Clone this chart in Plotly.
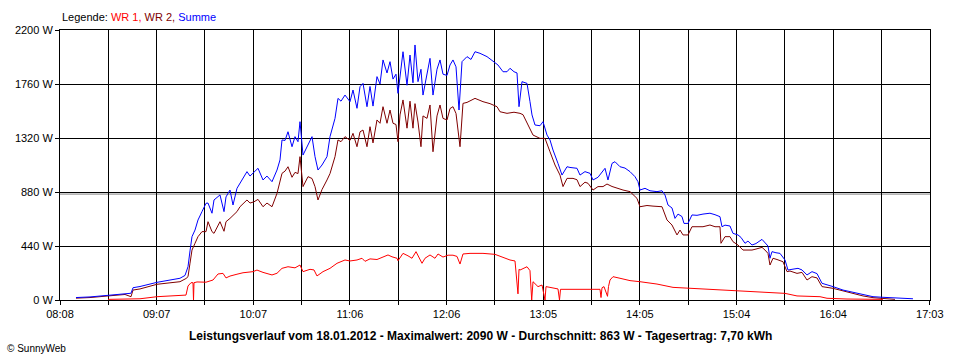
import pandas as pd
import plotly.graph_objects as go

DATE = "2012-01-18"

# ---- data (time, W) ----
SUMME_T = ["08:18:20","08:26:57","08:38:01","08:48:28","08:52:10","08:53:24","08:57:42","09:08:09","09:16:08","09:22:17",
           "09:25:22","09:27:13","09:28:27","09:29:40","09:31:31","09:33:22","09:35:49","09:38:17","09:39:31","09:41:58",
           "09:43:12","09:46:53","09:49:21","09:50:35","09:53:02","09:54:53","09:57:20","09:59:11","10:01:39","10:03:29",
           "10:05:20","10:07:48","10:10:16","10:13:20","10:15:47","10:18:52","10:21:57","10:23:47","10:25:01","10:26:52",
           "10:28:42","10:31:10","10:33:01","10:34:51","10:36:05","10:37:56","10:39:47","10:41:01","10:43:28","10:45:19",
           "10:47:09","10:49:37","10:52:41","10:54:32","10:57:37","10:59:27","11:01:18","11:03:46","11:06:50","11:08:41",
           "11:11:08","11:12:59","11:14:50","11:17:17","11:19:08","11:20:59","11:23:26","11:25:17","11:27:08","11:29:35",
           "11:31:26","11:33:17","11:35:07","11:36:21","11:37:35","11:39:26","11:41:53","11:43:44","11:45:34","11:46:48",
           "11:48:39","11:50:29","11:51:43","11:54:11","11:56:02","11:57:52","12:00:20","12:02:11","12:04:01","12:06:29",
           "12:08:20","12:10:10","12:12:01","12:13:52","12:15:43","12:18:47","12:21:14","12:23:42","12:26:46","12:31:05",
           "12:34:46","12:37:50","12:40:55","12:43:23","12:45:13","12:47:41","12:49:32","12:50:46","12:52:36","12:55:41",
           "12:57:31","12:58:45","13:00:36","13:03:40","13:05:31","13:07:59","13:09:49","13:11:40","13:14:44","13:17:12",
           "13:20:17","13:22:07","13:26:26","13:28:16","13:31:20","13:34:25","13:36:16","13:39:20","13:43:39","13:45:29",
           "13:47:57","13:49:47","13:52:52","13:55:56","13:59:01","14:02:05","14:03:56","14:05:10","14:08:14","14:11:19",
           "14:15:37","14:18:42","14:20:32","14:22:23","14:24:50","14:26:41","14:28:32","14:30:59","14:32:13","14:34:41",
           "14:37:08","14:40:13","14:43:54","14:48:12","14:51:17","14:54:21","14:55:35","14:57:26","15:00:30","15:02:21",
           "15:05:25","15:07:16","15:09:44","15:11:34","15:14:02","15:16:29","15:20:11","15:22:02","15:23:52","15:25:06",
           "15:26:20","15:28:47","15:31:15","15:34:20","15:36:11","15:38:38","15:42:20","15:44:47","15:47:52","15:50:56",
           "15:54:01","15:57:05","16:00:10","16:03:51","16:10:00","16:16:09","16:22:18","16:28:27","16:34:36","16:46:17",
           "16:53:02"]
SUMME_W = [20,25,38,50,55,100,110,144,160,177,
           200,271,400,516,570,652,720,788,790,707,
           815,856,720,840,896,774,910,950,1000,1046,
           1010,1040,1073,978,1010,964,1059,1141,1304,1300,
           1371,1249,1331,1290,1453,1181,1230,1263,1331,1168,
           1059,1100,1168,1331,1480,1643,1620,1670,1616,1711,
           1562,1738,1765,1575,1740,1580,1820,1760,1956,1850,
           1942,1800,1840,1684,1833,2023,1750,1996,1770,2078,
           1779,1880,1670,1850,1969,1670,1880,1956,1840,1830,
           1915,1956,1900,1548,1942,1983,1960,2023,2010,1983,
           1942,1915,1860,1860,1888,1860,1850,1575,1779,1765,
           1616,1508,1426,1420,1453,1344,1304,1222,1113,1018,
           1086,1080,1073,1018,1046,1032,978,1000,1073,978,
           1113,1127,1086,1075,1046,1005,964,896,910,890,
           883,890,856,774,750,665,700,680,624,624,
           693,690,700,707,695,679,597,610,603,543,
           530,510,462,480,448,460,494,470,440,340,
           394,385,380,326,244,250,258,245,204,231,
           215,136,125,109,81,62,49,27,22,14,
           10]

WR2_T = ["08:18:20","08:26:57","08:38:01","08:48:28","08:52:10","08:53:24","08:57:42","09:08:09","09:16:08","09:22:17",
         "09:25:59","09:27:13","09:28:27","09:29:40","09:31:31","09:33:22","09:35:49","09:38:17","09:39:31","09:41:58",
         "09:43:12","09:46:53","09:49:21","09:50:35","09:53:02","09:54:53","09:57:20","09:59:11","10:01:39","10:03:29",
         "10:05:20","10:07:48","10:10:16","10:13:20","10:15:47","10:18:52","10:21:57","10:23:47","10:25:01","10:26:52",
         "10:28:42","10:31:10","10:33:01","10:34:51","10:36:05","10:37:56","10:39:47","10:41:01","10:43:28","10:45:19",
         "10:47:09","10:49:37","10:52:41","10:54:32","10:57:37","10:59:27","11:01:18","11:03:46","11:06:50","11:08:41",
         "11:11:08","11:12:59","11:14:50","11:17:17","11:19:08","11:20:59","11:23:26","11:25:17","11:27:08","11:29:35",
         "11:31:26","11:33:17","11:35:07","11:36:21","11:37:35","11:39:26","11:41:53","11:43:44","11:45:34","11:46:48",
         "11:48:39","11:50:29","11:51:43","11:54:11","11:56:02","11:57:52","12:00:20","12:02:11","12:04:01","12:06:29",
         "12:08:20","12:10:10","12:12:01","12:14:29","12:16:19","12:18:47","12:23:42","12:28:37","12:32:55","12:37:14",
         "12:39:04","12:43:23","12:47:41","12:51:22","12:53:13","12:56:17","12:59:22","13:03:40","13:06:45","13:09:49",
         "13:12:54","13:15:58","13:17:49","13:20:17","13:23:58","13:26:26","13:28:16","13:31:20","13:33:11","13:36:16",
         "13:39:20","13:42:25","13:44:52","13:47:57","13:51:01","13:54:43","13:59:01","14:03:19","14:05:10","14:09:28",
         "14:13:10","14:18:42","14:21:46","14:24:50","14:27:55","14:29:46","14:31:37","14:34:41","14:37:08","14:40:13",
         "14:43:54","14:48:12","14:51:17","14:54:21","14:54:58","14:57:26","15:00:30","15:02:21","15:05:25","15:08:30",
         "15:11:34","15:14:02","15:16:29","15:20:11","15:22:02","15:23:52","15:25:06","15:26:57","15:29:25","15:33:06",
         "15:35:34","15:37:24","15:41:43","15:44:47","15:47:52","15:50:56","15:54:01","15:57:05","16:03:51","16:10:00",
         "16:16:09","16:22:18","16:28:27","16:34:36","16:41:58"]
WR2_W = [15,20,33,45,27,81,90,128,140,149,
         175,190,300,407,462,516,557,557,638,557,
         543,638,560,638,665,690,720,760,790,815,
         790,800,820,760,790,760,869,960,1032,1050,
         1086,1000,1040,1030,1168,924,980,1005,990,924,
         815,900,978,1030,1168,1304,1290,1331,1300,1358,
         1249,1370,1385,1249,1412,1280,1467,1440,1575,1440,
         1548,1440,1430,1290,1508,1630,1400,1620,1400,1600,
         1450,1249,1500,1480,1589,1208,1500,1589,1480,1467,
         1560,1575,1520,1249,1602,1610,1643,1616,1600,1575,
         1534,1521,1530,1521,1510,1426,1344,1317,1317,1208,
         1100,1018,924,991,991,980,924,960,951,896,
         924,924,945,925,910,896,883,828,760,770,
         765,760,652,611,530,570,530,530,597,597,
         597,611,597,597,462,516,516,475,448,407,
         407,407,415,429,407,380,285,340,330,312,
         231,236,217,225,163,190,180,109,95,73,
         55,33,19,11,5]

WR1_T = ["08:38:01","08:57:42","09:08:09","09:22:17","09:25:59","09:27:13","09:29:04","09:30:17","09:30:36","09:30:54",
         "09:32:45","09:38:17","09:42:35","09:45:40","09:48:44","09:50:35","09:53:02","09:57:20","10:01:02","10:07:11",
         "10:09:38","10:13:20","10:18:52","10:21:57","10:25:01","10:28:42","10:33:01","10:36:05","10:37:56","10:42:14",
         "10:44:41","10:46:32","10:50:14","10:54:32","10:58:50","11:03:46","11:06:50","11:11:08","11:14:13","11:16:03",
         "11:19:08","11:23:26","11:27:08","11:30:12","11:32:40","11:35:44","11:36:21","11:39:26","11:42:30","11:44:58",
         "11:47:25","11:49:16","11:51:07","11:52:57","11:56:02","11:59:06","12:00:57","12:04:01","12:07:06","12:10:10",
         "12:12:38","12:14:29","12:16:19","12:20:38","12:28:37","12:36:00","12:40:55","12:45:13","12:48:18","12:50:08",
         "12:50:46","12:51:22","12:55:41","12:57:31","12:58:34","12:59:22","13:02:26","13:04:54","13:06:45","13:07:22",
         "13:09:49","13:14:44","13:15:40","13:16:17","13:40:34","13:41:11","13:41:48","13:43:02","13:45:11","13:45:48",
         "13:46:43","13:48:34","13:52:52","13:59:01","14:05:10","14:15:37","14:25:28","14:35:55","14:54:21","15:10:58",
         "15:23:16","15:34:20","15:41:43","15:55:51","16:00:10","16:12:28","16:34:36"]
WR1_W = [5,10,27,35,40,114,141,141,0,141,
         147,145,163,212,217,180,195,210,222,231,
         244,225,204,218,258,271,262,285,231,250,
         245,196,231,258,299,326,318,326,340,315,
         335,330,353,367,352,340,320,380,360,340,
         394,340,299,340,367,340,375,350,365,365,
         355,293,375,380,380,372,348,326,318,50,
         250,244,271,239,0,149,109,122,0,109,
         103,90,0,87,87,20,100,109,30,110,
         163,190,177,158,149,130,103,95,81,68,
         62,54,33,27,14,8,5]

AVERAGE_W = 863
Y_TICKS = [0, 440, 880, 1320, 1760, 2200]
Y_TICK_LABELS = ["0 W", "440 W", "880 W", "1320 W", "1760 W", "2200 W"]
X_TICK_LABELS = ["08:08", "09:07", "10:07", "11:06", "12:06", "13:05", "14:05", "15:04", "16:04", "17:03"]
X_START = "08:08:30"
X_END = "17:03:30"
TITLE = "Leistungsverlauf vom 18.01.2012 - Maximalwert: 2090 W - Durchschnitt: 863 W - Tagesertrag: 7,70 kWh"


def ts(lst):
    return pd.to_datetime([f"{DATE} {t}" for t in lst])


start = pd.Timestamp(f"{DATE} {X_START}")
end = pd.Timestamp(f"{DATE} {X_END}")
step = (end - start) / 18
tickvals = [start + i * step for i in range(19)]
ticktext = [X_TICK_LABELS[i // 2] if i % 2 == 0 else "" for i in range(19)]

FONT = "Liberation Sans, Arial, sans-serif"

fig = go.Figure()
fig.add_trace(go.Scatter(x=ts(WR1_T), y=WR1_W, mode="lines", name="WR 1",
                         line=dict(color="#FF0000", width=1)))
fig.add_trace(go.Scatter(x=ts(WR2_T), y=WR2_W, mode="lines", name="WR 2",
                         line=dict(color="#800000", width=1)))
fig.add_trace(go.Scatter(x=ts(SUMME_T), y=SUMME_W, mode="lines", name="Summe",
                         line=dict(color="#0000FF", width=1)))

fig.add_shape(type="line", xref="paper", x0=0, x1=1, yref="y", y0=AVERAGE_W, y1=AVERAGE_W,
              line=dict(color="#808080", width=1), layer="below")

fig.update_layout(
    width=960, height=360,
    margin=dict(l=60, r=30, t=30, b=60),
    paper_bgcolor="white", plot_bgcolor="white",
    showlegend=False,
    font=dict(family=FONT, size=11, color="black"),
    xaxis=dict(type="date", range=[start, end], tickvals=tickvals, ticktext=ticktext,
               showgrid=True, gridcolor="black", gridwidth=1,
               showline=True, linecolor="black", linewidth=1, mirror=True,
               ticks="outside", ticklen=4, tickcolor="black", zeroline=False,
               tickfont=dict(family=FONT, size=11, color="black")),
    yaxis=dict(range=[0, 2200], tickvals=Y_TICKS, ticktext=Y_TICK_LABELS,
               showgrid=True, gridcolor="black", gridwidth=1,
               showline=True, linecolor="black", linewidth=1, mirror=True,
               ticks="outside", ticklen=4, tickcolor="black", zeroline=False,
               tickfont=dict(family=FONT, size=11, color="black")),
)

fig.add_annotation(xref="paper", yref="paper", x=0, y=(300 - 17) / 270, xanchor="left", yanchor="middle",
                   showarrow=False, font=dict(family=FONT, size=11, color="black"),
                   text="Legende: <span style='color:#FF0000'>WR 1,</span> "
                        "<span style='color:#800000'>WR 2,</span> "
                        "<span style='color:#0000FF'>Summe</span>")
fig.add_annotation(xref="paper", yref="paper", x=(480 - 60) / 870, y=-(336 - 300) / 270,
                   xanchor="center", yanchor="middle", showarrow=False,
                   font=dict(family=FONT, size=12, color="black"), text=f"<b>{TITLE}</b>")
fig.add_annotation(xref="paper", yref="paper", x=(5 - 60) / 870, y=-(348 - 300) / 270,
                   xanchor="left", yanchor="middle", showarrow=False,
                   font=dict(family=FONT, size=10, color="black"), text="© SunnyWeb")

fig.write_html("out.html", config={"displayModeBar": False},
               post_script="document.body.style.margin='0';document.body.style.padding='0';")
